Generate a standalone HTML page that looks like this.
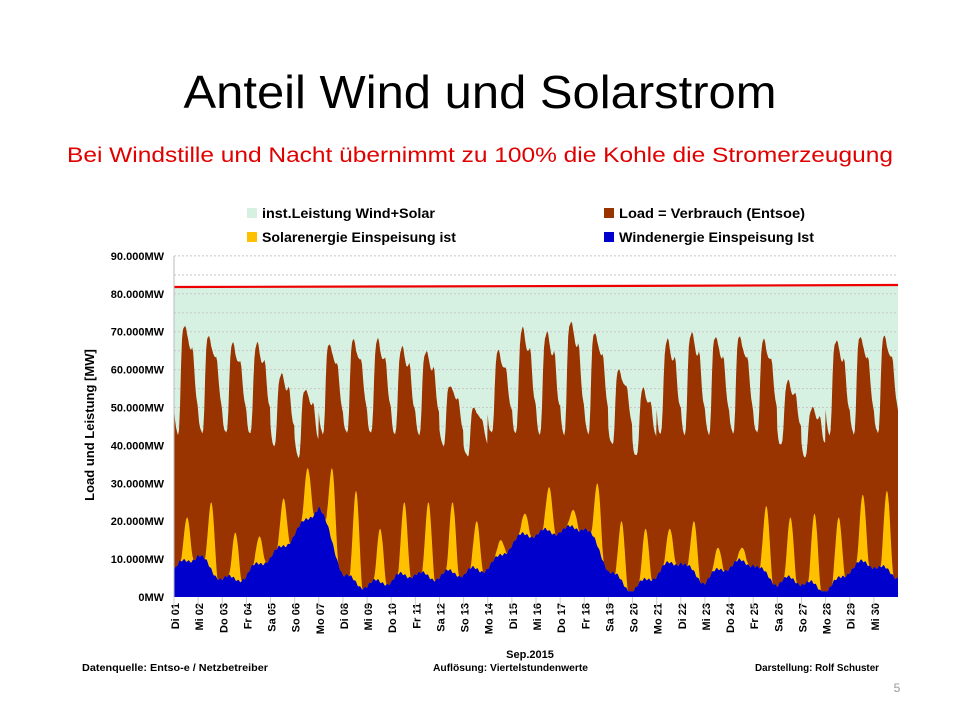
<!DOCTYPE html>
<html><head><meta charset="utf-8"><style>
body{margin:0;width:960px;height:720px;background:#fff;overflow:hidden;font-family:"Liberation Sans",sans-serif;}
</style></head><body>
<svg id="s" width="960" height="720" xmlns="http://www.w3.org/2000/svg" font-family="Liberation Sans, sans-serif">
<text x="480" y="108" text-anchor="middle" font-size="46" textLength="593" lengthAdjust="spacingAndGlyphs">Anteil Wind und Solarstrom</text>
<text x="480" y="162" text-anchor="middle" font-size="21" fill="#e00000" textLength="826" lengthAdjust="spacingAndGlyphs">Bei  Windstille und Nacht übernimmt zu 100% die Kohle die Stromerzeugung</text>
<g font-size="14" font-weight="bold">
<rect x="247" y="208" width="10" height="10" fill="#d6f1e2"/><text x="262" y="218" textLength="173" lengthAdjust="spacingAndGlyphs">inst.Leistung Wind+Solar</text>
<rect x="247" y="232" width="10" height="10" fill="#ffc000"/><text x="262" y="242" textLength="194" lengthAdjust="spacingAndGlyphs">Solarenergie Einspeisung ist</text>
<rect x="604" y="208" width="10" height="10" fill="#993300"/><text x="619" y="218" textLength="186" lengthAdjust="spacingAndGlyphs">Load =  Verbrauch (Entsoe)</text>
<rect x="604" y="232" width="10" height="10" fill="#0000cc"/><text x="619" y="242" textLength="195" lengthAdjust="spacingAndGlyphs">Windenergie Einspeisung Ist</text>
</g>
<rect x="174" y="286" width="724" height="311" fill="#d6f1e2"/>
<g id="grid"></g>
<path id="load" fill="#993300"/>
<path id="sol" fill="#ffc000"/>
<path id="wind" fill="#0000cc"/>
<path d="M174 287 L390 286.5 L590 286 L898 285" stroke="#ee0000" stroke-width="2.2" fill="none"/>
<line x1="174" y1="256" x2="174" y2="612" stroke="#bbb"/>
<g id="lab" font-size="11" font-weight="bold"></g>
<text x="94" y="425" transform="rotate(-90 94 425)" text-anchor="middle" font-size="13" font-weight="bold">Load und Leistung  [MW]</text>
<text x="530" y="658" text-anchor="middle" font-size="11" font-weight="bold">Sep.2015</text>
<g font-size="10.5" font-weight="bold">
<text x="82" y="671" textLength="186" lengthAdjust="spacingAndGlyphs">Datenquelle:  Entso-e  / Netzbetreiber</text>
<text x="433" y="671" textLength="155" lengthAdjust="spacingAndGlyphs">Auflösung: Viertelstundenwerte</text>
<text x="755" y="671" textLength="124" lengthAdjust="spacingAndGlyphs">Darstellung: Rolf Schuster</text>
</g>
<text x="897" y="692" font-size="12" fill="#999" text-anchor="middle">5</text>
</svg>
<script>
(function(){
var X0=174,W=724,Y0=597,K=3.79;
function y(v){return (Y0-v*K).toFixed(1);}
var g='',lab='';
for(var v=5;v<=90;v+=5){g+='<line x1="174" x2="898" y1="'+y(v)+'" y2="'+y(v)+'" stroke="#c8c8c8" stroke-dasharray="2,2"/>';}
for(var v=0;v<=90;v+=10){lab+='<text x="164" y="'+(+y(v)+4)+'" text-anchor="end">'+(v==0?'0MW':v+'.000MW')+'</text>';}
var names=['Di','Mi','Do','Fr','Sa','So','Mo'];
for(var d=0;d<30;d++){var x=X0+d*W/30+5;var t=names[d%7]+' '+(d<9?'0':'')+(d+1);
lab+='<text transform="translate('+x+',603) rotate(-90)" text-anchor="end">'+t+'</text>';
lab+='<line x1="'+(X0+d*W/30)+'" x2="'+(X0+d*W/30)+'" y1="597" y2="612" stroke="#ccc"/>';}
document.getElementById('grid').innerHTML=g;document.getElementById('lab').innerHTML=lab;
var P=[72,69,67,67,59,55,67,68,68,66,65,56,50,65,71,70,73,70,60,55,68,70,69,69,68,57,50,68,69,69];
var S=[21,25,17,16,26,34,34,28,18,25,25,25,20,15,22,29,23,30,20,18,18,20,13,13,24,21,22,21,27,28];
var Wd=[7,10,6,5,10,18,23,6,4,3,7,6,5,9,14,16,19,18,7,3,5,10,5,7,10,4,3,3,7,8,7];
var sh=[0.25,0.12,0.05,0.02,0,0.05,0.25,0.6,0.85,0.95,0.98,1,0.97,0.9,0.85,0.8,0.78,0.78,0.8,0.75,0.6,0.45,0.35,0.3,0.25];
var lp='M174 597',sp='M174 597',wp='M174 597';
var N=30*48;
for(var i=0;i<=N;i++){var t=i/48,d=Math.min(29,Math.floor(t)),h=(t-d)*24;
var wd=d%7;var m=(wd==4?40:wd==5?37:43);if(d==12||d==26)m=37;
var hi=Math.floor(h),f=h-hi;var s=sh[hi]+(sh[Math.min(24,hi+1)]-sh[hi])*f;
var L=m+(P[d]-m)*s+Math.sin(i*0.5)*0.4;
var w=Wd[d]+(Wd[d+1]-Wd[d])*(t-d)+Math.sin(i*0.13)*1.0+Math.sin(i*0.047)*1.2+Math.sin(i*0.7)*0.3;if(w<1.5)w=1.5;
var tp=w;if(h>6.5&&h<19.5){var b=Math.pow(Math.sin(Math.PI*(h-6.5)/13),1.7);tp=Math.max(w,w+(S[d]-w)*b);}
var x=(X0+t*W/30).toFixed(1);
lp+=' L'+x+' '+y(L);sp+=' L'+x+' '+y(tp);wp+=' L'+x+' '+y(w);}
lp+=' L898 597Z';sp+=' L898 597Z';wp+=' L898 597Z';
document.getElementById('load').setAttribute('d',lp);
document.getElementById('sol').setAttribute('d',sp);
document.getElementById('wind').setAttribute('d',wp);
})();
</script>
</body></html>
